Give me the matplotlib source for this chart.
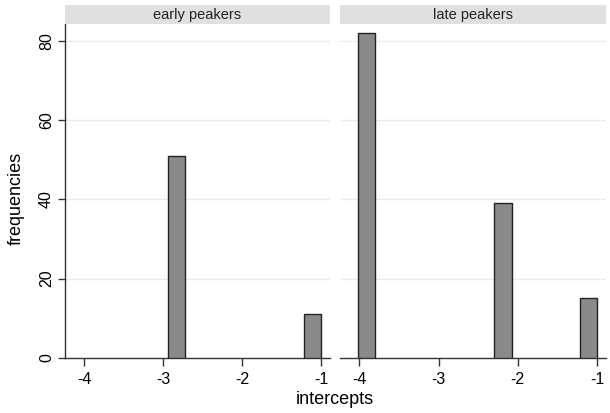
import matplotlib
matplotlib.use("Agg")
import matplotlib.pyplot as plt

plt.rcParams['font.family'] = ['Liberation Sans', 'DejaVu Sans']

panels = ["early peakers", "late peakers"]
early_bin_left = [-2.94, -1.216]
early_counts = [51, 11]
late_bin_left = [-4.02, -2.294, -1.216]
late_counts = [82, 39, 15]
bin_width = 0.216
x_ticks = [-4, -3, -2, -1]
y_ticks = [0, 20, 40, 60, 80]
x_label = "intercepts"
y_label = "frequencies"

W, H = 610, 413
fig = plt.figure(figsize=(W / 100, H / 100), dpi=100)
fig.patch.set_facecolor("white")

def fx(px):
    return px / W

def fy(py):
    return 1 - py / H

plot_top, plot_bot = 24, 358
strip_top = 5
panel_x = [(65, 330), (340, 606)]
data = [(early_bin_left, early_counts), (late_bin_left, late_counts)]

for i, ((x0, x1), (lefts, counts), title) in enumerate(zip(panel_x, data, panels)):
    ax = fig.add_axes([fx(x0), fy(plot_bot), fx(x1 - x0), (plot_bot - plot_top) / H])
    ax.set_xlim(-4.245, -0.885)
    ax.set_ylim(0, 84.2)
    for y in y_ticks[1:]:
        ax.axhline(y, color="#ebebeb", lw=1.0, zorder=0)
    ax.bar(lefts, counts, width=bin_width, align="edge", color="#8a8a8a",
           edgecolor="#222222", linewidth=1.0, zorder=3)
    for s in ["top", "right"]:
        ax.spines[s].set_visible(False)
    ax.spines["bottom"].set_color("#333333")
    ax.spines["bottom"].set_linewidth(1.0)
    ax.set_xticks(x_ticks)
    ax.set_xticklabels([str(t) for t in x_ticks], fontsize=11.5)
    ax.tick_params(axis="x", direction="out", length=6, width=1, color="#333333", pad=4)
    if i == 0:
        ax.spines["left"].set_color("#333333")
        ax.spines["left"].set_linewidth(1.0)
        ax.set_yticks(y_ticks)
        ax.set_yticklabels([str(t) for t in y_ticks], fontsize=11.5, rotation=90, va="center")
        ax.tick_params(axis="y", direction="out", length=5, width=1, color="#333333", pad=3)
    else:
        ax.spines["left"].set_visible(False)
        ax.set_yticks(y_ticks)
        ax.tick_params(axis="y", length=0, labelleft=False)
    ax.set_facecolor("white")

    sax = fig.add_axes([fx(x0), fy(plot_top), fx(x1 - x0), (plot_top - strip_top) / H])
    sax.set_facecolor("#e0e0e0")
    sax.set_xticks([])
    sax.set_yticks([])
    for s in sax.spines.values():
        s.set_visible(False)
    sax.text(0.5, 0.5, title, ha="center", va="center", fontsize=10.5,
             transform=sax.transAxes, color="#222222")

fig.text(fx(335), fy(400), x_label, ha="center", va="center", fontsize=13)
fig.text(fx(16), fy(198), y_label, ha="center", va="center", rotation=90, fontsize=13)

fig.savefig("out.png", dpi=100)
